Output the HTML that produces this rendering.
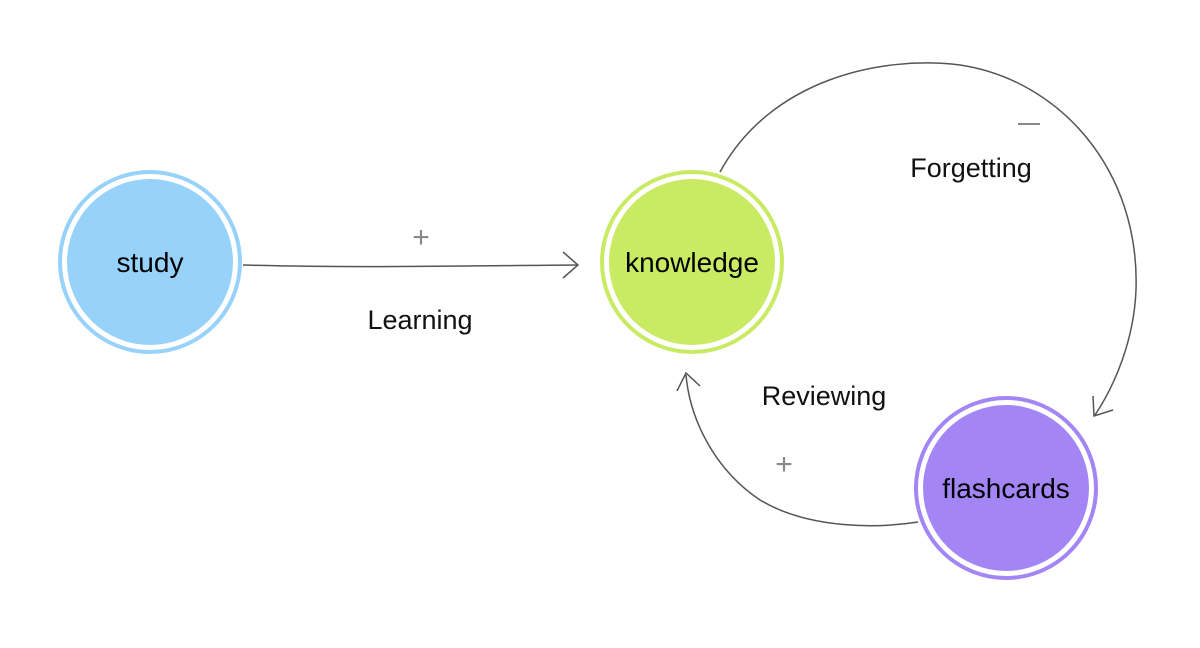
<!DOCTYPE html>
<html><head><style>
html,body{margin:0;padding:0;background:#fff;}
svg{display:block;font-family:"Liberation Sans",Helvetica,Arial,sans-serif;}
</style></head><body>
<svg width="1200" height="648" viewBox="0 0 1200 648">
<g fill="none" stroke="#555" stroke-width="1.5">
<path d="M243 265 C350 268 450 266 578 265"/>
<path d="M563 252 L578 265 L563 278"/>
<path d="M720 172 C770 80 880 55 960 65 C1060 80 1140 170 1136 290 C1134 340 1115 385 1095 415"/>
<path d="M1093 396 L1094 416 L1113 410"/>
<path d="M918 522 C880 528 810 530 760 500 C715 470 690 420 686 375"/>
<path d="M677 391 L686 373 L700 386"/>
</g>
<g fill="#888" font-size="30">
<text x="421" y="247" text-anchor="middle">+</text>
<text x="784" y="474" text-anchor="middle">+</text>
</g>
<rect x="1018" y="123" width="22" height="2" fill="#888"/>
<g font-size="27" fill="#111">
<text x="420" y="329" text-anchor="middle">Learning</text>
<text x="971" y="177" text-anchor="middle">Forgetting</text>
<text x="824" y="405" text-anchor="middle">Reviewing</text>
</g>
<circle cx="150" cy="262" r="90" fill="#fff" stroke="#97d2fb" stroke-width="4"/>
<circle cx="150" cy="262" r="83" fill="#97d2fb"/>
<circle cx="692" cy="262" r="90" fill="#fff" stroke="#c9ea63" stroke-width="4"/>
<circle cx="692" cy="262" r="83" fill="#c9ea63"/>
<circle cx="1006" cy="488" r="90" fill="#fff" stroke="#a385f6" stroke-width="4"/>
<circle cx="1006" cy="488" r="83" fill="#a385f6"/>
<g font-size="28" fill="#000" text-anchor="middle">
<text x="150" y="272">study</text>
<text x="692" y="272">knowledge</text>
<text x="1006" y="498">flashcards</text>
</g>
</svg>
</body></html>
